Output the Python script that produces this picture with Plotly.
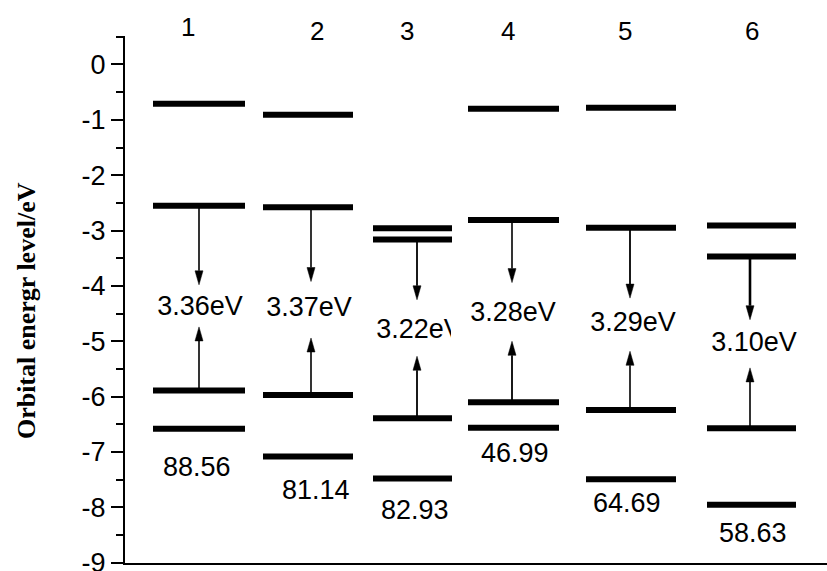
import plotly.graph_objects as go

# ---- data ----
columns = ["1", "2", "3", "4", "5", "6"]
lumo_plus1 = [-0.71, -0.91, -2.96, -0.80, -0.78, -2.91]
lumo = [-2.55, -2.58, -3.16, -2.81, -2.95, -3.47]
homo = [-5.89, -5.97, -6.39, -6.10, -6.24, -6.57]
homo_minus1 = [-6.58, -7.08, -7.48, -6.56, -7.49, -7.95]
gap_labels = ["3.36eV", "3.37eV", "3.22eV", "3.28eV", "3.29eV", "3.10eV"]
bottom_labels = ["88.56", "81.14", "82.93", "46.99", "64.69", "58.63"]
ytick_vals = [0, -1, -2, -3, -4, -5, -6, -7, -8, -9]
ytick_text = ["0", "-1", "-2", "-3", "-4", "-5", "-6", "-7", "-8", "-9"]

# ---- layout constants (pixel-based x axis) ----
W, H = 827, 571
M_L, M_R, M_T, M_B = 125, 0, 36, 8
Y_RANGE = [-9.004, 0.514]
PX_PER_Y = (H - M_T - M_B) / (Y_RANGE[1] - Y_RANGE[0])

bar_left = [153, 263, 373, 468, 586, 707]
bar_right = [245, 353, 452, 559, 676, 796]
arrow_x = [199, 311, 417, 512, 630, 750]
gap_text_x = [200, 309, 419, 513, 633, 754]
num_text_x = [197, 316, 415, 515, 627, 753]
label_x = [188, 317, 407, 508, 625, 752]
label_y = [1.017, 1.009, 1.009, 1.009, 1.009, 1.009]
down_tip = [-3.98, -3.92, -4.25, -3.94, -4.22, -4.61]
up_tip = [-4.74, -4.94, -5.27, -5.00, -5.18, -5.48]
gap_text_y = [-4.41, -4.43, -4.82, -4.52, -4.70, -5.06]
num_shift = [38, 34, 31, 25, 24, 28]
down_w = [1.6, 1.6, 1.8, 1.6, 1.8, 2.6]
up_w = [1.6, 1.6, 1.8, 1.8, 1.6, 1.6]
HEAD_LEN = 14   # px
HEAD_HALF = 4   # px

FONT = "Liberation Sans, Arial, sans-serif"

fig = go.Figure()

# energy levels
xs, ys = [], []
for i in range(len(columns)):
    for lvl in (lumo_plus1[i], lumo[i], homo[i], homo_minus1[i]):
        xs += [bar_left[i], bar_right[i], None]
        ys += [lvl, lvl, None]
fig.add_trace(go.Scatter(x=xs, y=ys, mode="lines",
                         line=dict(color="black", width=6),
                         hoverinfo="skip", showlegend=False))

# arrows: shaft + filled head
hx, hy = [], []
for i in range(len(columns)):
    for start, tip, w in ((lumo[i], down_tip[i], down_w[i]),
                          (homo[i], up_tip[i], up_w[i])):
        direction = 1 if tip > start else -1
        base = tip - direction * HEAD_LEN / PX_PER_Y
        fig.add_trace(go.Scatter(
            x=[arrow_x[i], arrow_x[i]], y=[start, base],
            mode="lines", line=dict(color="black", width=w),
            hoverinfo="skip", showlegend=False))
        hx += [arrow_x[i] - HEAD_HALF, arrow_x[i] + HEAD_HALF, arrow_x[i],
               arrow_x[i] - HEAD_HALF, None]
        hy += [base, base, tip, base, None]
fig.add_trace(go.Scatter(x=hx, y=hy, mode="lines", fill="toself",
                         fillcolor="black", line=dict(color="black", width=0.5),
                         hoverinfo="skip", showlegend=False))

# gap labels
fig.add_trace(go.Scatter(x=gap_text_x, y=gap_text_y, mode="text",
                         text=gap_labels, textposition="middle center",
                         textfont=dict(family=FONT, size=27, color="black"),
                         hoverinfo="skip", showlegend=False))

# white mask that clips the "V" of 3.22eV as in the original
fig.add_shape(type="rect", xref="x", yref="y", x0=451, x1=466,
              y0=-4.5, y1=-5.15, fillcolor="white", line=dict(width=0),
              layer="above")

annotations = []
for i in range(len(columns)):
    annotations.append(dict(x=num_text_x[i], y=homo_minus1[i], xref="x", yref="y",
                            text=bottom_labels[i], showarrow=False,
                            yanchor="middle", yshift=-num_shift[i],
                            font=dict(family=FONT, size=27, color="black")))
    annotations.append(dict(x=label_x[i], y=label_y[i], xref="x", yref="paper",
                            text=columns[i], showarrow=False,
                            yanchor="middle",
                            font=dict(family=FONT, size=26, color="black")))
annotations.append(dict(x=-99 / 702, y=0.478, xref="paper", yref="paper",
                        text="<b>Orbital energr level/eV</b>", showarrow=False,
                        textangle=-90, xanchor="center", yanchor="middle",
                        font=dict(family="Liberation Serif, Times New Roman, serif",
                                  size=26, color="black")))

fig.update_layout(
    width=W, height=H,
    margin=dict(l=M_L, r=M_R, t=M_T, b=M_B),
    paper_bgcolor="white", plot_bgcolor="white",
    annotations=annotations,
    xaxis=dict(range=[M_L, W - M_R], showgrid=False, zeroline=False,
               showticklabels=False, ticks="", showline=True,
               linecolor="black", linewidth=2, fixedrange=True,
               automargin=False),
    yaxis=dict(range=Y_RANGE, showgrid=False, zeroline=False,
               tickvals=ytick_vals, ticktext=ytick_text,
               ticks="outside", ticklen=12, tickwidth=2, tickcolor="black",
               showline=True, linecolor="black", linewidth=2,
               tickfont=dict(family=FONT, size=27, color="black"),
               ticklabeloverflow="allow", automargin=False,
               minor=dict(dtick=0.5, ticks="outside", ticklen=7,
                          tickwidth=2, tickcolor="black"),
               fixedrange=True),
    showlegend=False,
)

fig.write_html("out.html")
